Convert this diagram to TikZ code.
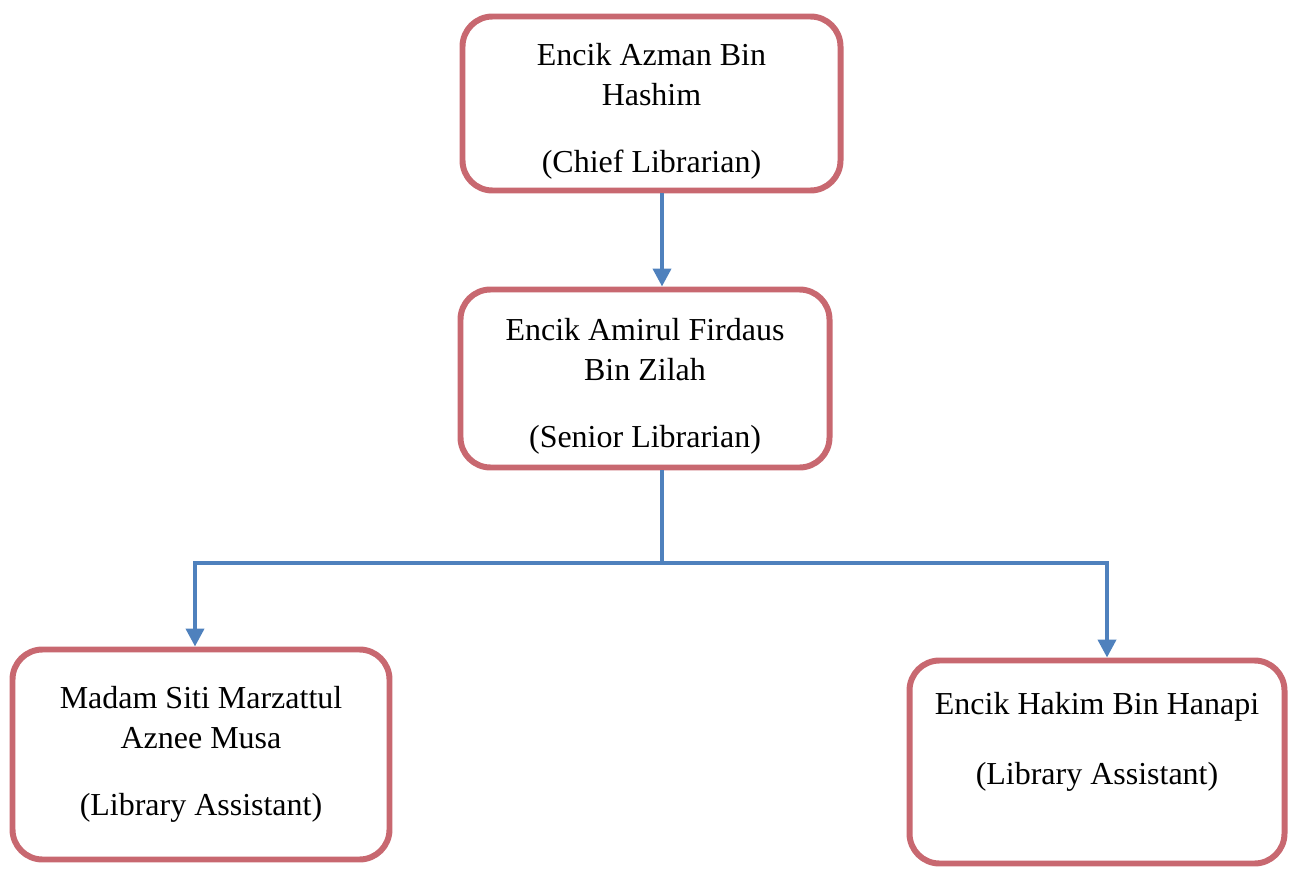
\documentclass[tikz,border=0pt]{standalone}
\usepackage{fontspec}
\setmainfont{Liberation Serif}
\usetikzlibrary{arrows.meta}
\definecolor{boxred}{RGB}{200,104,112}
\definecolor{linkblue}{RGB}{79,129,189}

\begin{document}
\begin{tikzpicture}[
    staff/.style={draw=boxred, line width=3.4pt, rounded corners=0.6cm, fill=white,
        align=center, font=\fontsize{18.2}{22.8}\selectfont},
    link/.style={draw=linkblue, line width=2.3pt, -{Triangle[length=0.36cm,width=0.36cm]}}]
    \useasboundingbox (0,0) rectangle (25.84,-17.44);

    % Chief
    \node[staff, minimum width=7.56cm, minimum height=3.48cm] (chief) at (13.03,-2.07)
        {Encik Azman Bin\\Hashim\\[15pt](Chief Librarian)\\[-28pt]\mbox{}};

    % Senior
    \node[staff, minimum width=7.38cm, minimum height=3.56cm] (senior) at (12.9,-7.57)
        {Encik Amirul Firdaus\\Bin Zilah\\[15pt](Senior Librarian)\\[-28pt]\mbox{}};

    % Assistants
    \node[staff, minimum width=7.54cm, minimum height=4.2cm] (assistA) at (4.02,-15.09)
        {Madam Siti Marzattul\\Aznee Musa\\[15pt](Library Assistant)};
    \node[staff, minimum width=7.5cm, minimum height=4.06cm] (assistB) at (21.94,-15.24)
        {Encik Hakim Bin Hanapi\\[17pt](Library Assistant)\\[4pt]\mbox{}};

    % Liens
    \coordinate (trunk) at (13.24,-11.26);
    \draw[link] (chief.south -| trunk) -- (senior.north -| trunk);
    \draw[draw=linkblue, line width=2.3pt] (senior.south -| trunk) -- (trunk);
    \draw[link] (trunk) -| ([xshift=-0.12cm]assistA.north);
    \draw[link] (trunk) -| ([xshift=0.2cm]assistB.north);
\end{tikzpicture}
\end{document}
